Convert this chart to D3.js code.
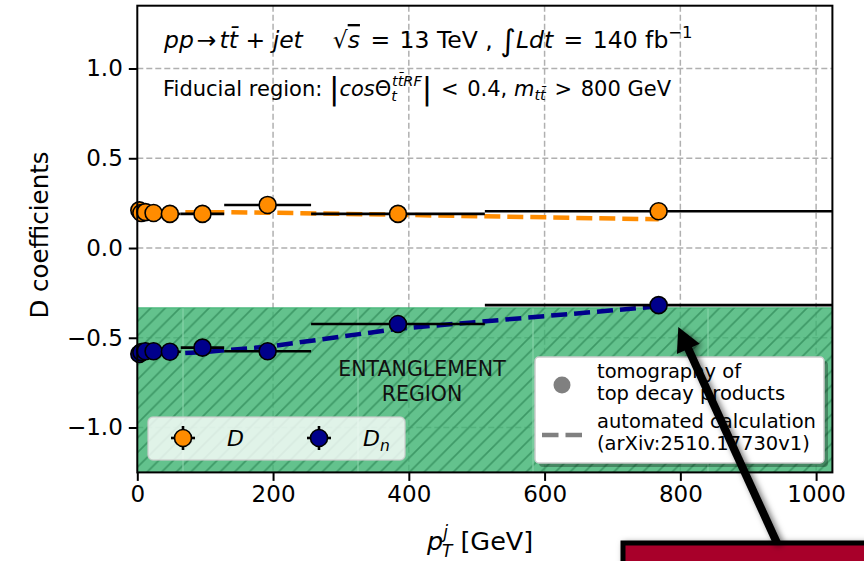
<!DOCTYPE html>
<html><head><meta charset="utf-8">
<script src="https://cdn.jsdelivr.net/npm/d3@7"></script>
<style>body{margin:0;background:#fff}text{font-family:"DejaVu Sans",sans-serif;white-space:pre}</style>
</head><body>
<svg id="c" width="864" height="561" xmlns="http://www.w3.org/2000/svg"></svg>
<script>
// ---- data ----
const binLow    = [2, 4, 8, 16, 32, 64, 128, 256, 512];
const binHigh   = [4, 8, 16, 32, 64, 128, 256, 512, 1024];
const binCenter = [3, 6, 12, 24, 48, 96, 192, 384, 768];
const D         = [0.21, 0.195, 0.20, 0.195, 0.19, 0.19, 0.24, 0.19, 0.205];
const Dn        = [-0.59, -0.58, -0.575, -0.575, -0.578, -0.555, -0.575, -0.423, -0.318];
const Dtheory   = [0.20, 0.20, 0.20, 0.20, 0.20, 0.20, 0.197, 0.185, 0.16];
const DnTheory  = [-0.60, -0.60, -0.60, -0.595, -0.59, -0.58, -0.55, -0.45, -0.325];
const xTicks = [0, 200, 400, 600, 800, 1000];
const yTicks = [-1.0, -0.5, 0.0, 0.5, 1.0];
const entanglementBound = -1/3;
const arrowTip = [797, -0.44];

// ---- layout ----
const svg = d3.select("#c");
const x = d3.scaleLinear([0, 1024], [137.3, 832.4]);
const y = d3.scaleLinear([-1.25, 1.35], [472.4, 5.7]);
const [X0, X1] = x.range(), [Y0, Y1] = [y.range()[1], y.range()[0]];
const orange = "#ff8c00", blue = "#00008b";

const defs = svg.append("defs");
const hp = defs.append("pattern").attr("id", "hatch").attr("patternUnits", "userSpaceOnUse")
  .attr("width", 14.583).attr("height", 14.583).attr("x", 0).attr("y", 6.67);
hp.append("path").attr("d", "M-2,2 L2,-2 M0,14.583 L14.583,0 M12.583,16.583 L16.583,12.583")
  .attr("stroke", "#3a9563").attr("stroke-width", 1.7).attr("stroke-opacity", 0.9);
const f = defs.append("filter").attr("id", "shadow").attr("x", "-50%").attr("y", "-50%").attr("width", "200%").attr("height", "200%");
f.append("feDropShadow").attr("dx", 3).attr("dy", 2).attr("stdDeviation", 3).attr("flood-color", "#000").attr("flood-opacity", 0.55);
defs.append("clipPath").attr("id", "axclip").append("rect").attr("x", X0).attr("y", Y0).attr("width", X1 - X0).attr("height", Y1 - Y0);

// grid
const grid = svg.append("g").attr("stroke", "#b0b0b0").attr("stroke-width", 1.5).attr("stroke-dasharray", "6,3");
xTicks.filter(d => d > 0).forEach(t => grid.append("line").attr("x1", x(t)).attr("x2", x(t)).attr("y1", Y0).attr("y2", Y1));
yTicks.forEach(t => grid.append("line").attr("x1", X0).attr("x2", X1).attr("y1", y(t)).attr("y2", y(t)));

// entanglement region
const reg = svg.append("g").attr("clip-path", "url(#axclip)");
reg.append("rect").attr("x", X0).attr("y", y(entanglementBound)).attr("width", X1 - X0)
  .attr("height", y(-1.25) - y(entanglementBound)).attr("fill", "#3cb371").attr("fill-opacity", 0.8);
reg.append("rect").attr("x", X0).attr("y", y(entanglementBound)).attr("width", X1 - X0)
  .attr("height", y(-1.25) - y(entanglementBound)).attr("fill", "url(#hatch)");
// faint tile seams of the hatch
[183, 358, 533, 708].forEach(px => reg.append("line").attr("x1", px).attr("x2", px)
  .attr("y1", y(entanglementBound)).attr("y2", Y1).attr("stroke", "#86d3a8").attr("stroke-width", 1.2));
reg.append("line").attr("x1", X0).attr("x2", X1).attr("y1", y(entanglementBound)).attr("y2", y(entanglementBound))
  .attr("stroke", "#3cb371").attr("stroke-width", 1);

const et = svg.append("text").attr("text-anchor", "middle").attr("font-size", 20.5).attr("fill", "#111");
et.append("tspan").attr("x", 422).attr("y", 376).text("ENTANGLEMENT");
et.append("tspan").attr("x", 422).attr("y", 401).text("REGION");

// theory lines
const line = d3.line().x((d, i) => x(binCenter[i])).y(d => y(d));
[[Dtheory, orange], [DnTheory, blue]].forEach(([arr, c]) =>
  svg.append("path").attr("d", line(arr)).attr("fill", "none").attr("stroke", c)
    .attr("stroke-width", 4.5).attr("stroke-dasharray", "16,7"));

// error bars + markers
[[D, orange], [Dn, blue]].forEach(([arr, c]) => {
  const g = svg.append("g");
  arr.forEach((v, i) => g.append("line").attr("x1", x(binLow[i])).attr("x2", x(binHigh[i]))
    .attr("y1", y(v)).attr("y2", y(v)).attr("stroke", "#000").attr("stroke-width", 2.6));
  arr.forEach((v, i) => g.append("circle").attr("cx", x(binCenter[i])).attr("cy", y(v)).attr("r", 8.5)
    .attr("fill", c).attr("stroke", "#000").attr("stroke-width", 1.6));
});

// frame
svg.append("rect").attr("x", X0).attr("y", Y0).attr("width", X1 - X0).attr("height", Y1 - Y0)
  .attr("fill", "none").attr("stroke", "#000").attr("stroke-width", 2);

// axes
const xa = svg.append("g").attr("transform", `translate(0,${Y1})`)
  .call(d3.axisBottom(x).tickValues(xTicks).tickFormat(d3.format("d")).tickSize(8.5).tickPadding(5));
const ya = svg.append("g").attr("transform", `translate(${X0},0)`)
  .call(d3.axisLeft(y).tickValues(yTicks).tickFormat(d => d3.format(".1f")(d).replace("-", "\u2212")).tickSize(8.5).tickPadding(6));
[xa, ya].forEach(a => {
  a.select(".domain").remove();
  a.selectAll(".tick line").attr("stroke", "#000").attr("stroke-width", 2);
  a.selectAll(".tick text").attr("font-size", 23).attr("fill", "#000").attr("font-family", "DejaVu Sans");
});

// axis labels
svg.append("text").attr("transform", "translate(48,235) rotate(-90)").attr("text-anchor", "middle")
  .attr("font-size", 24.5).text("D coefficients");
const xl = svg.append("text").attr("x", 427).attr("y", 550).attr("font-size", 25.5);
xl.append("tspan").attr("font-style", "italic").text("p");
xl.append("tspan").attr("font-style", "italic").attr("font-size", 17).attr("dy", -12).text("j");
xl.append("tspan").attr("font-style", "italic").attr("font-size", 17).attr("dx", -6).attr("dy", 19).text("T");
xl.append("tspan").attr("dy", -7).text(" [GeV]");

// header texts
const t1 = svg.append("text").attr("x", 164).attr("y", 48).attr("font-size", 23.5);
t1.append("tspan").attr("font-style", "italic").text("pp");
t1.append("tspan").attr("dx", 3).text("\u2192");
t1.append("tspan").attr("dx", 3).attr("font-style", "italic").text("tt\u0304");
t1.append("tspan").text(" + ");
t1.append("tspan").attr("font-style", "italic").text("jet");
t1.append("tspan").text("    \u221a");
t1.append("tspan").attr("font-style", "italic").attr("text-decoration", "overline").text("s");
t1.append("tspan").attr("dx", 3).text(" = ");
t1.append("tspan").attr("dx", 2).text("13 TeV , ");
t1.append("tspan").attr("font-size", 30).attr("dy", 3).text("\u222b");
t1.append("tspan").attr("font-style", "italic").attr("dy", -3).text("Ldt");
t1.append("tspan").attr("dx", 3).text(" = ");
t1.append("tspan").attr("dx", 2).text("140 fb");
t1.append("tspan").attr("font-size", 16.5).attr("dy", -10).text("\u22121");

const t2 = svg.append("text").attr("x", 163).attr("y", 96).attr("font-size", 21);
t2.append("tspan").text("Fiducial region: ");
t2.append("tspan").attr("font-size", 31).attr("dy", 3).text("|");
t2.append("tspan").attr("font-style", "italic").attr("dy", -3).text("cos");
t2.append("tspan").text("\u0398");
t2.append("tspan").attr("font-style", "italic").attr("font-size", 14.5).attr("dy", 5).text("t");
t2.append("tspan").attr("font-style", "italic").attr("font-size", 14.5).attr("dx", -5).attr("dy", -15).text("tt\u0304RF");
t2.append("tspan").attr("font-size", 31).attr("dy", 13).text("|");
t2.append("tspan").attr("dy", -3).attr("dx", 2).text(" < ");
t2.append("tspan").attr("dx", 2).text("0.4, ");
t2.append("tspan").attr("font-style", "italic").text("m");
t2.append("tspan").attr("font-style", "italic").attr("font-size", 14.5).attr("dy", 4).text("tt\u0304");
t2.append("tspan").attr("dy", -4).attr("dx", 2).text(" > ");
t2.append("tspan").attr("dx", 2).text("800 GeV");

// legend left
const lg = svg.append("g");
lg.append("rect").attr("x", 148).attr("y", 417).attr("width", 257).attr("height", 43).attr("rx", 5)
  .attr("fill", "#fff").attr("fill-opacity", 0.8).attr("stroke", "#cccccc").attr("stroke-opacity", 0.8).attr("stroke-width", 1.5);
[[183, orange, "D", null], [319, blue, "D", "n"]].forEach(([cx, c, lab, sub]) => {
  lg.append("line").attr("x1", cx - 12).attr("x2", cx + 12).attr("y1", 438).attr("y2", 438).attr("stroke", "#000").attr("stroke-width", 2.6);
  lg.append("line").attr("x1", cx).attr("x2", cx).attr("y1", 426).attr("y2", 450).attr("stroke", "#000").attr("stroke-width", 2.6);
  lg.append("circle").attr("cx", cx).attr("cy", 438).attr("r", 8.5).attr("fill", c).attr("stroke", "#000").attr("stroke-width", 1.6);
  const t = lg.append("text").attr("x", cx + 44).attr("y", 446).attr("font-size", 22).attr("font-style", "italic").text(lab);
  if (sub) t.append("tspan").attr("font-size", 15.5).attr("dy", 5).text(sub);
});

// legend right
const lr = svg.append("g");
lr.append("rect").attr("x", 539).attr("y", 361).attr("width", 289).attr("height", 106).attr("rx", 4)
  .attr("fill", "#000").attr("fill-opacity", 0.3);
lr.append("rect").attr("x", 535).attr("y", 357).attr("width", 289).attr("height", 106).attr("rx", 4)
  .attr("fill", "#fff").attr("stroke", "#cccccc").attr("stroke-width", 1.5);
lr.append("circle").attr("cx", 562).attr("cy", 385).attr("r", 8.5).attr("fill", "#808080");
lr.append("line").attr("x1", 542).attr("x2", 582).attr("y1", 435).attr("y2", 435).attr("stroke", "#808080")
  .attr("stroke-width", 4.5).attr("stroke-dasharray", "16.5,7");
[["tomography of", 378], ["top decay products", 400], ["automated calculation", 428], ["(arXiv:2510.17730v1)", 450]]
  .forEach(([s, by]) => lr.append("text").attr("x", 597).attr("y", by).attr("font-size", 19.5).text(s));

// red box and arrow
svg.append("rect").attr("x", 623).attr("y", 543).attr("width", 260).attr("height", 40)
  .attr("fill", "#a8002a").attr("stroke", "#000").attr("stroke-width", 5).attr("filter", "url(#shadow)");
const tail = [777, 543], tip = [x(arrowTip[0]), y(arrowTip[1])];
const dx = tip[0] - tail[0], dy = tip[1] - tail[1], L = Math.hypot(dx, dy);
const ux = dx / L, uy = dy / L, hl = 24, hw = 12.5;
const bx = tip[0] - ux * hl, by = tip[1] - uy * hl;
const ag = svg.append("g").attr("filter", "url(#shadow)");
ag.append("line").attr("x1", tail[0]).attr("y1", tail[1]).attr("x2", bx + ux * 2).attr("y2", by + uy * 2)
  .attr("stroke", "#000").attr("stroke-width", 8);
ag.append("path").attr("d", `M${tip[0]},${tip[1]} L${bx - uy * hw},${by + ux * hw} L${bx + uy * hw},${by - ux * hw} Z`).attr("fill", "#000");
</script>
</body></html>
